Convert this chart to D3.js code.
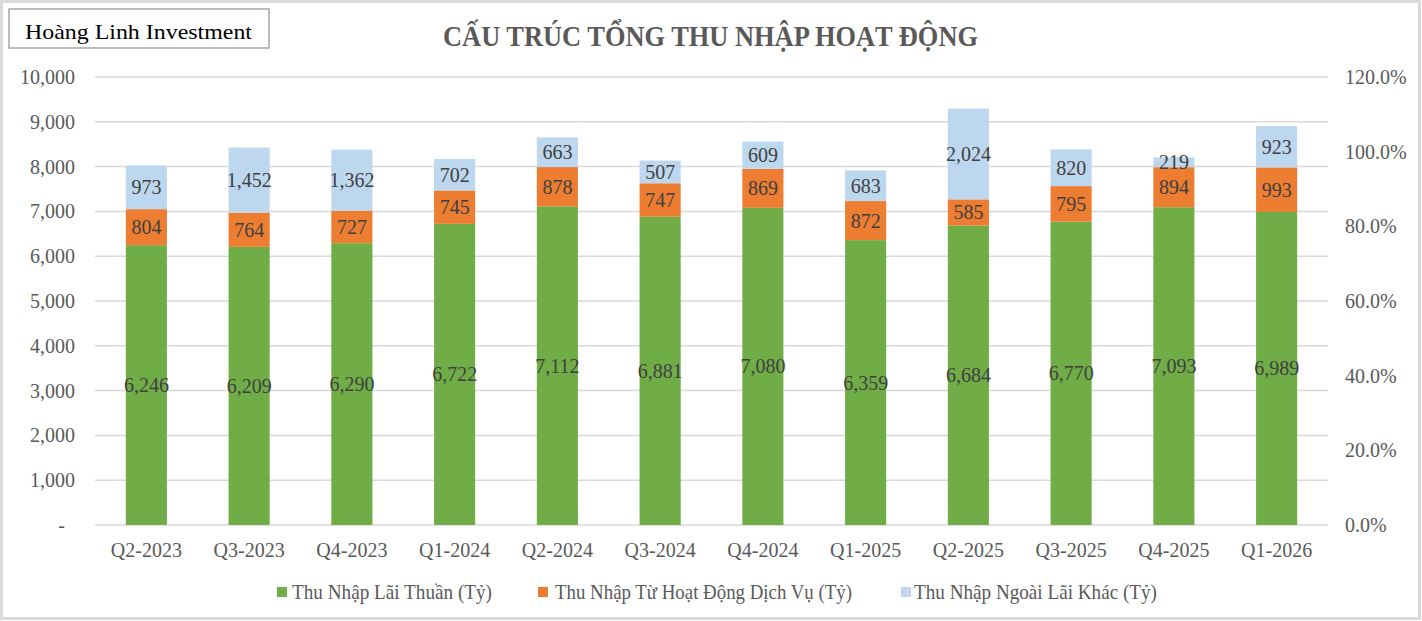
<!DOCTYPE html>
<html>
<head>
<meta charset="utf-8">
<script src="https://cdn.jsdelivr.net/npm/d3@7"></script>
<style>
  html, body { margin: 0; padding: 0; background: #fff; }
  svg { display: block; }
  text { font-family: "Liberation Serif", "DejaVu Serif", serif; }
</style>
</head>
<body>
<svg id="chart" width="1422" height="621"></svg>
<script>
const categories = ["Q2-2023","Q3-2023","Q4-2023","Q1-2024","Q2-2024","Q3-2024","Q4-2024","Q1-2025","Q2-2025","Q3-2025","Q4-2025","Q1-2026"];
const netInterest = [6246, 6209, 6290, 6722, 7112, 6881, 7080, 6359, 6684, 6770, 7093, 6989];
const serviceIncome = [804, 764, 727, 745, 878, 747, 869, 872, 585, 795, 894, 993];
const otherNonInterest = [973, 1452, 1362, 702, 663, 507, 609, 683, 2024, 820, 219, 923];
const seriesNames = ["Thu Nhập Lãi Thuần (Tỷ)", "Thu Nhập Từ Hoạt Động Dịch Vụ (Tỷ)", "Thu Nhập Ngoài Lãi Khác (Tỷ)"];
const seriesColors = ["#70ad47", "#ed7d31", "#bdd7ee"];
const leftTicks = [0,1000,2000,3000,4000,5000,6000,7000,8000,9000,10000];
const rightTicks = [0,0.2,0.4,0.6,0.8,1.0,1.2];
const title = "CẤU TRÚC TỔNG THU NHẬP HOẠT ĐỘNG";
const brand = "Hoàng Linh Investment";

const svg = d3.select("#chart");
const W = 1422, H = 621;
const plot = {left: 95, right: 1328, top: 77, bottom: 525};

// outer frame
svg.append("rect").attr("x",1.5).attr("y",1.5).attr("width",W-4).attr("height",H-4)
  .attr("fill","#fff").attr("stroke","#d9d9d9").attr("stroke-width",3);

// brand box
svg.append("rect").attr("x",9).attr("y",9).attr("width",260).attr("height",39)
  .attr("fill","#fff").attr("stroke","#a6a6a6").attr("stroke-width",1.5);
svg.append("text").attr("x",25).attr("y",39).attr("font-size",22).attr("fill","#000")
  .attr("textLength",227).attr("lengthAdjust","spacingAndGlyphs").text(brand);

// title
svg.append("text").attr("x",710.5).attr("y",46).attr("text-anchor","middle")
  .attr("font-size",29).attr("font-weight","bold").attr("fill","#595959")
  .attr("textLength",535).attr("lengthAdjust","spacingAndGlyphs").text(title);

const x = d3.scaleBand().domain(categories).range([plot.left, plot.right]).paddingInner(0.6).paddingOuter(0.3);
const y = d3.scaleLinear().domain([0,10000]).range([plot.bottom, plot.top]);
const yR = d3.scaleLinear().domain([0,1.2]).range([plot.bottom, plot.top]);

// gridlines
svg.append("g").selectAll("line").data(leftTicks).join("line")
  .attr("x1",plot.left).attr("x2",plot.right)
  .attr("y1",d=>y(d)).attr("y2",d=>y(d))
  .attr("stroke","#d9d9d9").attr("stroke-width",1.5);

// left axis
const leftAxis = d3.axisLeft(y).tickValues(leftTicks).tickSize(0).tickPadding(0)
  .tickFormat(d => d === 0 ? "-" : d3.format(",")(d));
const gL = svg.append("g").attr("transform","translate(75,0)").call(leftAxis);
gL.select(".domain").remove();
gL.selectAll("text").attr("font-size",20).attr("fill","#595959")
  .attr("font-family","Liberation Serif").attr("dx", d => d === 0 ? -10 : 0);

// right axis
const rightAxis = d3.axisRight(yR).tickValues(rightTicks).tickSize(0).tickPadding(0)
  .tickFormat(d3.format(".1%"));
const gR = svg.append("g").attr("transform","translate(1345,0)").call(rightAxis);
gR.select(".domain").remove();
gR.selectAll("text").attr("font-size",20).attr("fill","#595959").attr("font-family","Liberation Serif");

// bottom axis labels
const bottomAxis = d3.axisBottom(x).tickSize(0).tickPadding(0);
const gB = svg.append("g").attr("transform",`translate(0,${plot.bottom+18})`).call(bottomAxis);
gB.select(".domain").remove();
gB.selectAll("text").attr("font-size",20).attr("fill","#595959").attr("font-family","Liberation Serif");

// stacked data
const rows = categories.map((c,i)=>({cat:c, s0:netInterest[i], s1:serviceIncome[i], s2:otherNonInterest[i]}));
const stack = d3.stack().keys(["s0","s1","s2"])(rows);

const layers = svg.append("g").selectAll("g").data(stack).join("g")
  .attr("fill",(d,i)=>seriesColors[i]);
layers.selectAll("rect").data(d=>d).join("rect")
  .attr("x",d=>x(d.data.cat)).attr("width",x.bandwidth())
  .attr("y",d=>y(d[1])).attr("height",d=>y(d[0])-y(d[1]));

// data labels
const lbl = svg.append("g");
stack.forEach((layer,li)=>{
  lbl.selectAll(null).data(layer).join("text")
    .attr("x",d=>x(d.data.cat)+x.bandwidth()/2)
    .attr("y",d=>(y(d[0])+y(d[1]))/2)
    .attr("dy","0.35em")
    .attr("text-anchor","middle")
    .attr("font-size",20).attr("fill","#404040")
    .text(d=>d3.format(",")(d[1]-d[0]));
});

// legend
const legendItems = [
  {sx:277, tx:292, len:200},
  {sx:538, tx:555, len:297},
  {sx:901, tx:914, len:243}
];
const lg = svg.append("g");
legendItems.forEach((it,i)=>{
  lg.append("rect").attr("x",it.sx).attr("y",587).attr("width",10).attr("height",10).attr("fill",seriesColors[i]);
  lg.append("text").attr("x",it.tx).attr("y",599).attr("font-size",21).attr("fill","#595959")
    .attr("textLength",it.len).attr("lengthAdjust","spacingAndGlyphs").text(seriesNames[i]);
});
</script>
</body>
</html>
